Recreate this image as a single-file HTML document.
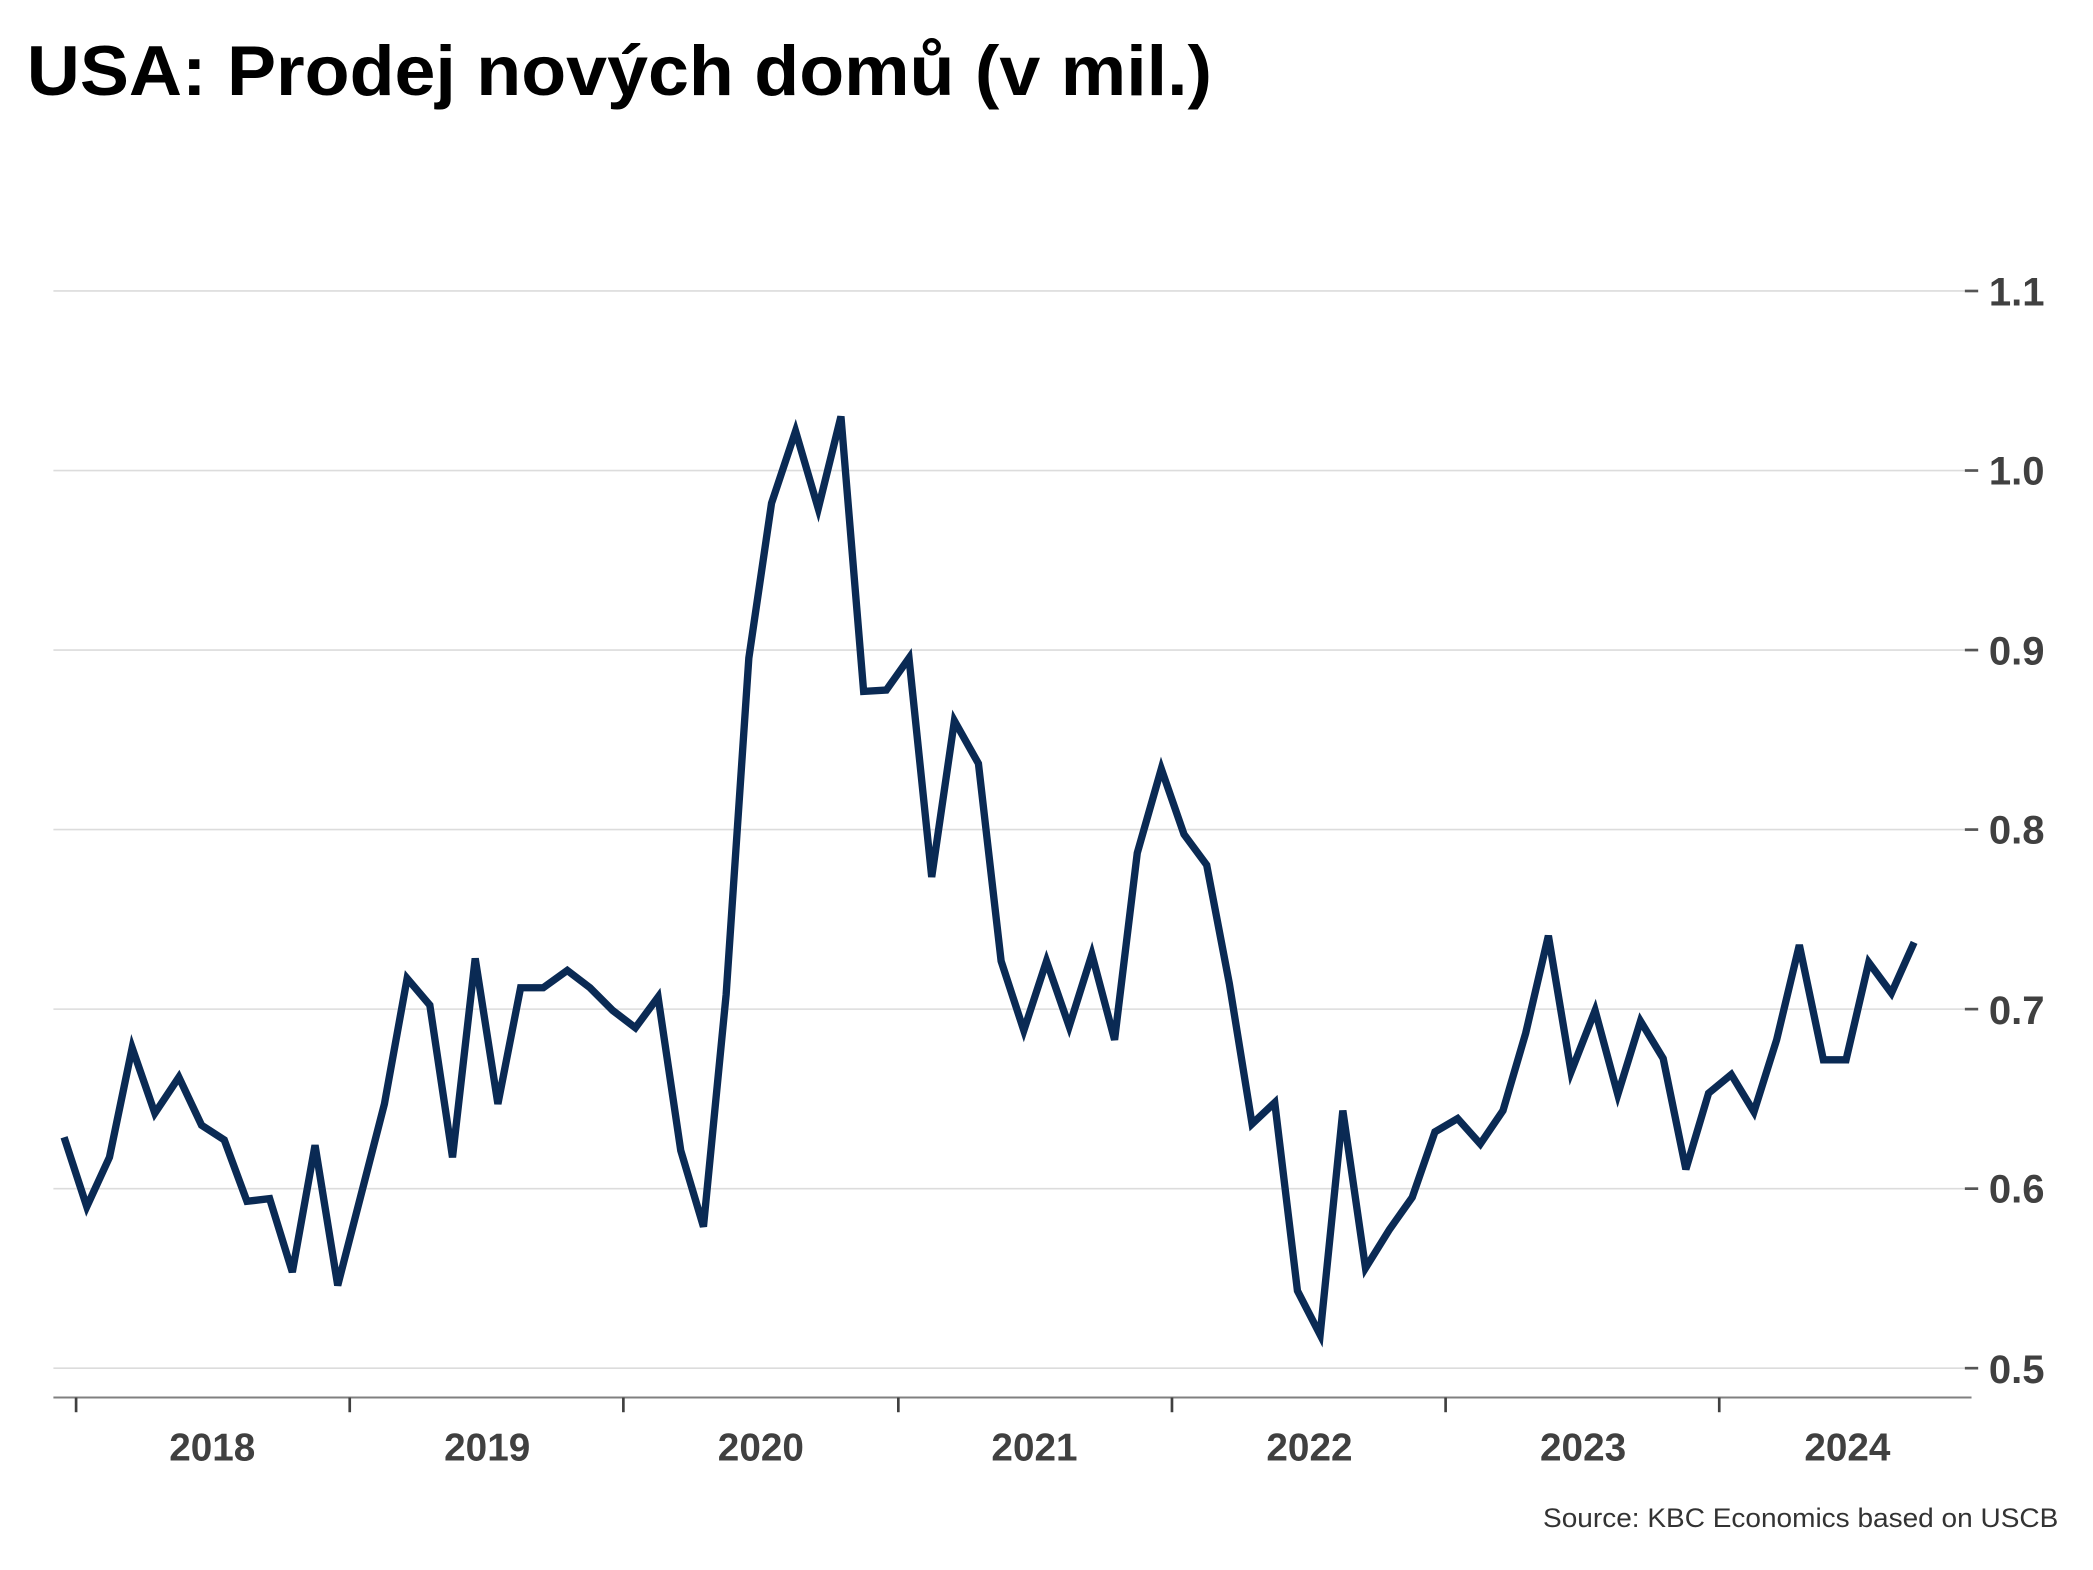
<!DOCTYPE html>
<html><head><meta charset="utf-8"><style>html,body{margin:0;padding:0;background:#fff}svg{display:block}</style></head>
<body>
<svg width="2093" height="1570" viewBox="0 0 1568 1176.2" xmlns="http://www.w3.org/2000/svg" font-family="'Liberation Sans', 'DejaVu Sans', sans-serif">
<rect width="1568" height="1177" fill="#fff"/>
<text x="20" y="71" font-size="53" font-weight="bold" fill="#000" textLength="888" lengthAdjust="spacingAndGlyphs">USA: Prodej nových domů (v mil.)</text>
<g stroke="#dcdcdc" stroke-width="1.2">
<line x1="40" x2="1472" y1="218" y2="218"/>
<line x1="40" x2="1472" y1="352.5" y2="352.5"/>
<line x1="40" x2="1472" y1="487" y2="487"/>
<line x1="40" x2="1472" y1="621.5" y2="621.5"/>
<line x1="40" x2="1472" y1="756" y2="756"/>
<line x1="40" x2="1472" y1="890.5" y2="890.5"/>
<line x1="40" x2="1472" y1="1025" y2="1025"/>
</g>
<g stroke="#555" stroke-width="2">
<line x1="1472" x2="1482" y1="218" y2="218"/>
<line x1="1472" x2="1482" y1="352.5" y2="352.5"/>
<line x1="1472" x2="1482" y1="487" y2="487"/>
<line x1="1472" x2="1482" y1="621.5" y2="621.5"/>
<line x1="1472" x2="1482" y1="756" y2="756"/>
<line x1="1472" x2="1482" y1="890.5" y2="890.5"/>
<line x1="1472" x2="1482" y1="1025" y2="1025"/>
</g>
<g font-size="30" font-weight="bold" fill="#404040">
<text x="1490" y="229">1.1</text>
<text x="1490" y="363">1.0</text>
<text x="1490" y="498">0.9</text>
<text x="1490" y="632">0.8</text>
<text x="1490" y="767">0.7</text>
<text x="1490" y="901">0.6</text>
<text x="1490" y="1036">0.5</text>
</g>
<line x1="40" x2="1477" y1="1047" y2="1047" stroke="#808080" stroke-width="1.5"/>
<g stroke="#404040" stroke-width="2">
<line x1="57" x2="57" y1="1047" y2="1058"/>
<line x1="262" x2="262" y1="1047" y2="1058"/>
<line x1="467" x2="467" y1="1047" y2="1058"/>
<line x1="673" x2="673" y1="1047" y2="1058"/>
<line x1="878" x2="878" y1="1047" y2="1058"/>
<line x1="1083" x2="1083" y1="1047" y2="1058"/>
<line x1="1288" x2="1288" y1="1047" y2="1058"/>
</g>
<g font-size="29" font-weight="bold" fill="#404040" text-anchor="middle">
<text x="159" y="1094">2018</text>
<text x="365" y="1094">2019</text>
<text x="570" y="1094">2020</text>
<text x="775" y="1094">2021</text>
<text x="981" y="1094">2022</text>
<text x="1186" y="1094">2023</text>
<text x="1384" y="1094">2024</text>
</g>
<polyline fill="none" stroke="#0a2a54" stroke-width="5.5" stroke-linejoin="miter" points="48,852 65,904 82,867 99,785 116,834 134,807 151,843 168,854 185,900 202,898 219,953 236,858 253,963 270,897 288,827 305,733 322,753 339,867 356,718 373,827 390,740 407,740 425,727 442,740 459,757 476,770 493,747 510,862 527,919 544,745 561,493 578,377 596,323 613,381 630,312 647,518 664,517 681,493 698,657 715,540 733,572 750,720 767,772 784,720 801,769 818,715 835,779 852,639 870,576 887,625 904,648 921,737 938,842 955,826 972,967 989,1000 1006,832 1023,950 1041,921 1058,897 1075,848 1092,838 1109,857 1126,832 1143,774 1160,701 1177,803 1195,757 1212,820 1229,765 1246,793 1263,876 1280,819 1297,805 1314,833 1331,779 1348,708 1366,794 1383,794 1400,721 1417,744 1434,706"/>
<text x="1542" y="1144" font-size="20" fill="#333" text-anchor="end" textLength="386" lengthAdjust="spacingAndGlyphs">Source: KBC Economics based on USCB</text>
</svg>
</body></html>
